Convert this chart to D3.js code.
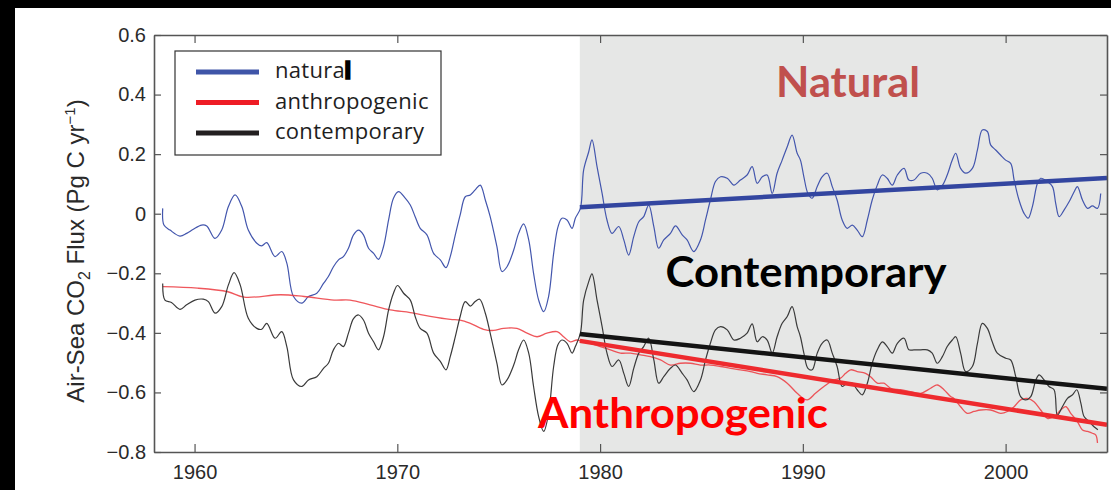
<!DOCTYPE html>
<html>
<head>
<meta charset="utf-8">
<script src="https://cdn.jsdelivr.net/npm/d3@7"></script>
<style>
  html, body { margin: 0; padding: 0; background: #fff; }
  svg { display: block; }
</style>
</head>
<body>
<svg id="chart" width="1111" height="490"></svg>
<script>
// Air-sea CO2 flux components, Pg C per year
const natYears = [1958.43,1958.49,1958.79,1959.28,1959.61,1959.94,1960.35,1960.60,1961.01,1961.34,1961.67,1962.00,1962.33,1962.65,1963.07,1963.31,1963.56,1963.97,1964.30,1964.55,1964.88,1965.29,1965.62,1966.03,1966.36,1966.60,1966.85,1967.10,1967.34,1967.59,1967.84,1968.09,1968.33,1968.58,1968.83,1969.07,1969.32,1969.57,1969.81,1970.06,1970.39,1970.64,1970.88,1971.13,1971.46,1971.79,1972.12,1972.40,1972.61,1972.86,1973.10,1973.35,1973.60,1973.84,1974.09,1974.34,1974.58,1974.91,1975.16,1975.41,1975.74,1975.98,1976.23,1976.48,1976.72,1976.97,1977.22,1977.46,1977.71,1977.92,1978.12,1978.37,1978.62,1978.78,1979.03,1979.19,1979.44,1979.60,1979.85,1980.10,1980.34,1980.59,1980.92,1981.17,1981.41,1981.66,1981.91,1982.15,1982.40,1982.65,1982.89,1983.14,1983.47,1983.72,1984.05,1984.29,1984.62,1984.95,1985.20,1985.44,1985.69,1985.94,1986.27,1986.60,1986.92,1987.25,1987.50,1987.75,1988.00,1988.24,1988.49,1988.73,1988.98,1989.23,1989.47,1989.72,1989.88,1990.05,1990.25,1990.46,1990.71,1990.95,1991.20,1991.45,1991.69,1991.94,1992.19,1992.44,1992.68,1992.93,1993.18,1993.42,1993.67,1993.92,1994.16,1994.41,1994.66,1994.99,1995.23,1995.48,1995.81,1996.14,1996.38,1996.63,1996.88,1997.12,1997.37,1997.54,1997.78,1998.03,1998.36,1998.61,1998.85,1999.10,1999.26,1999.51,1999.75,2000.00,2000.25,2000.42,2000.66,2000.91,2001.11,2001.32,2001.57,2001.73,2002.06,2002.31,2002.47,2002.64,2002.88,2003.13,2003.38,2003.54,2003.79,2004.04,2004.28,2004.53,2004.69];
const natural = [0.018,-0.038,-0.055,-0.075,-0.066,-0.052,-0.038,-0.041,-0.083,-0.055,0.024,0.063,0.024,-0.055,-0.099,-0.108,-0.097,-0.144,-0.127,-0.166,-0.278,-0.300,-0.278,-0.267,-0.234,-0.211,-0.178,-0.155,-0.144,-0.116,-0.071,-0.055,-0.071,-0.116,-0.133,-0.153,-0.110,-0.021,0.052,0.074,0.052,0.029,-0.010,-0.049,-0.071,-0.133,-0.155,-0.181,-0.144,-0.071,-0.004,0.057,0.063,0.080,0.096,0.046,-0.010,-0.110,-0.194,-0.178,-0.122,-0.066,-0.034,-0.088,-0.200,-0.290,-0.329,-0.278,-0.133,-0.045,-0.015,-0.021,-0.049,-0.015,0.018,0.147,0.208,0.248,0.158,0.068,-0.021,-0.066,-0.043,-0.088,-0.139,-0.077,-0.027,-0.010,0.029,-0.043,-0.116,-0.088,-0.066,-0.041,-0.071,-0.088,-0.127,-0.088,-0.021,0.046,0.108,0.124,0.119,0.096,0.113,0.130,0.158,0.102,0.124,0.130,0.068,0.136,0.180,0.225,0.264,0.203,0.180,0.124,0.068,0.052,0.091,0.124,0.136,0.091,0.046,-0.021,-0.049,-0.038,-0.055,-0.077,-0.021,0.046,0.096,0.130,0.119,0.096,0.130,0.152,0.113,0.113,0.136,0.136,0.119,0.080,0.095,0.130,0.180,0.203,0.152,0.136,0.152,0.214,0.281,0.276,0.231,0.214,0.197,0.180,0.169,0.113,0.046,0.001,-0.015,0.024,0.102,0.119,0.108,0.091,0.035,-0.010,0.012,0.040,0.074,0.091,0.046,0.018,0.026,0.018,0.068];

const anthYears = [1958.43,1960.15,1961.64,1962.45,1964.25,1965.40,1966.88,1967.67,1968.66,1969.65,1970.64,1971.62,1972.61,1973.10,1973.60,1974.25,1974.75,1975.24,1975.90,1976.40,1976.89,1977.38,1977.88,1978.20,1978.53,1978.86,1979.19,1979.52,1980.01,1980.51,1981.00,1981.50,1981.99,1982.48,1982.98,1983.47,1983.96,1984.46,1984.95,1985.44,1985.94,1986.43,1986.92,1987.42,1987.75,1988.24,1988.73,1989.23,1989.72,1990.21,1990.62,1991.04,1991.53,1991.86,1992.11,1992.36,1992.68,1993.09,1993.34,1993.67,1994.00,1994.33,1994.82,1995.31,1995.81,1996.30,1996.63,1996.96,1997.29,1997.45,1997.78,1998.11,1998.44,1998.77,1999.26,1999.76,2000.09,2000.42,2000.74,2001.07,2001.40,2001.73,2002.06,2002.39,2002.72,2002.97,2003.21,2003.54,2003.79,2004.04,2004.28,2004.45,2004.53];
const anthropogenic = [-0.245,-0.250,-0.262,-0.280,-0.272,-0.278,-0.290,-0.290,-0.306,-0.323,-0.332,-0.345,-0.355,-0.357,-0.368,-0.388,-0.392,-0.385,-0.385,-0.401,-0.413,-0.401,-0.396,-0.413,-0.430,-0.424,-0.430,-0.435,-0.446,-0.457,-0.468,-0.468,-0.474,-0.480,-0.491,-0.508,-0.502,-0.502,-0.508,-0.508,-0.513,-0.519,-0.524,-0.530,-0.536,-0.541,-0.547,-0.569,-0.603,-0.625,-0.603,-0.580,-0.558,-0.552,-0.536,-0.524,-0.530,-0.536,-0.547,-0.569,-0.569,-0.586,-0.591,-0.597,-0.603,-0.586,-0.575,-0.591,-0.614,-0.620,-0.648,-0.670,-0.664,-0.659,-0.659,-0.670,-0.664,-0.648,-0.625,-0.620,-0.631,-0.659,-0.687,-0.681,-0.659,-0.648,-0.670,-0.698,-0.726,-0.731,-0.737,-0.743,-0.770];

const contYears = [1958.43,1958.54,1958.86,1959.28,1959.61,1960.02,1960.43,1960.68,1961.01,1961.34,1961.67,1961.95,1962.25,1962.65,1963.07,1963.31,1963.56,1963.97,1964.30,1964.55,1964.88,1965.29,1965.62,1966.03,1966.36,1966.60,1966.85,1967.10,1967.34,1967.59,1967.84,1968.09,1968.33,1968.58,1968.83,1969.07,1969.32,1969.57,1969.81,1970.01,1970.31,1970.64,1970.88,1971.13,1971.46,1971.79,1972.12,1972.40,1972.61,1972.86,1973.10,1973.35,1973.60,1973.84,1974.06,1974.34,1974.58,1974.91,1975.16,1975.41,1975.74,1975.98,1976.23,1976.48,1976.72,1976.97,1977.22,1977.46,1977.71,1977.92,1978.12,1978.37,1978.62,1978.78,1979.03,1979.19,1979.44,1979.60,1979.85,1980.10,1980.34,1980.59,1980.92,1981.17,1981.41,1981.66,1981.91,1982.15,1982.40,1982.65,1982.89,1983.14,1983.47,1983.72,1984.05,1984.29,1984.62,1984.95,1985.20,1985.44,1985.69,1985.94,1986.27,1986.60,1986.92,1987.25,1987.50,1987.75,1988.00,1988.24,1988.49,1988.73,1988.98,1989.23,1989.47,1989.72,1989.88,1990.05,1990.25,1990.46,1990.71,1990.95,1991.20,1991.45,1991.69,1991.94,1992.19,1992.44,1992.68,1992.93,1993.18,1993.42,1993.67,1993.92,1994.16,1994.41,1994.66,1994.99,1995.23,1995.48,1995.81,1996.14,1996.38,1996.63,1996.88,1997.12,1997.37,1997.54,1997.78,1998.03,1998.36,1998.61,1998.85,1999.10,1999.34,1999.59,2000.00,2000.25,2000.50,2000.74,2000.99,2001.24,2001.49,2001.65,2001.90,2002.14,2002.39,2002.55,2002.80,2003.05,2003.30,2003.51,2003.71,2003.87,2004.12,2004.36,2004.55];
const contemporary = [-0.234,-0.290,-0.298,-0.321,-0.306,-0.290,-0.287,-0.295,-0.334,-0.312,-0.239,-0.198,-0.239,-0.351,-0.385,-0.388,-0.368,-0.418,-0.396,-0.446,-0.558,-0.580,-0.558,-0.547,-0.519,-0.502,-0.457,-0.435,-0.446,-0.401,-0.352,-0.340,-0.357,-0.401,-0.430,-0.457,-0.413,-0.323,-0.267,-0.241,-0.267,-0.290,-0.345,-0.385,-0.401,-0.468,-0.496,-0.524,-0.480,-0.413,-0.345,-0.295,-0.310,-0.295,-0.287,-0.334,-0.401,-0.502,-0.575,-0.558,-0.508,-0.457,-0.424,-0.468,-0.580,-0.681,-0.731,-0.670,-0.513,-0.440,-0.424,-0.435,-0.468,-0.446,-0.401,-0.290,-0.228,-0.202,-0.290,-0.379,-0.468,-0.513,-0.491,-0.536,-0.580,-0.519,-0.468,-0.446,-0.418,-0.491,-0.569,-0.547,-0.519,-0.508,-0.536,-0.558,-0.597,-0.558,-0.491,-0.435,-0.390,-0.379,-0.390,-0.424,-0.418,-0.401,-0.370,-0.430,-0.413,-0.424,-0.468,-0.413,-0.368,-0.345,-0.312,-0.379,-0.413,-0.468,-0.519,-0.524,-0.468,-0.435,-0.424,-0.468,-0.513,-0.580,-0.569,-0.569,-0.591,-0.608,-0.569,-0.502,-0.457,-0.430,-0.446,-0.468,-0.435,-0.418,-0.457,-0.457,-0.457,-0.457,-0.468,-0.502,-0.480,-0.446,-0.424,-0.413,-0.468,-0.530,-0.513,-0.435,-0.368,-0.385,-0.430,-0.468,-0.485,-0.491,-0.547,-0.614,-0.625,-0.614,-0.558,-0.541,-0.558,-0.580,-0.591,-0.676,-0.648,-0.620,-0.608,-0.591,-0.636,-0.681,-0.698,-0.715,-0.725];

// Linear trends over 1979-2005
const trendYears = [1979, 2005];
const naturalTrend = [0.022, 0.120];
const contemporaryTrend = [-0.404, -0.588];
const anthropogenicTrend = [-0.427, -0.709];

const xTicks = [1960, 1970, 1980, 1990, 2000];
const yTicks = [0.6, 0.4, 0.2, 0, -0.2, -0.4, -0.6, -0.8];
const legendLabels = ["natural", "anthropogenic", "contemporary"];

const svg = d3.select("#chart");
const W = 1111, H = 490;
const plot = { left: 154, right: 1107, top: 35, bottom: 452 };

const x = d3.scaleLinear().domain([1958, 2005]).range([plot.left, plot.right]);
const y = d3.scaleLinear().domain([-0.8, 0.6]).range([plot.bottom, plot.top]);

// dark frame strips along top and left edges
svg.append("rect").attr("x", 0).attr("y", 0).attr("width", W).attr("height", 8).attr("fill", "#000");
svg.append("rect").attr("x", 0).attr("y", 0).attr("width", 15).attr("height", H).attr("fill", "#000");

svg.append("defs").append("clipPath").attr("id", "plotClip")
  .append("rect").attr("x", plot.left).attr("y", plot.top)
  .attr("width", plot.right - plot.left).attr("height", plot.bottom - plot.top);

// shaded analysis period
svg.append("rect")
  .attr("x", x(trendYears[0])).attr("y", plot.top)
  .attr("width", plot.right - x(trendYears[0])).attr("height", plot.bottom - plot.top)
  .attr("fill", "#e6e7e6");

const line = d3.line().curve(d3.curveCatmullRom.alpha(0.5))
  .x(d => x(d[0])).y(d => y(d[1]));
const zip = (a, b) => a.map((v, i) => [v, b[i]]);

const g = svg.append("g").attr("clip-path", "url(#plotClip)");
g.append("path").attr("d", line(zip(natYears, natural)))
  .attr("fill", "none").attr("stroke", "#4356ad").attr("stroke-width", 1.2);
g.append("path").attr("d", line(zip(anthYears, anthropogenic)))
  .attr("fill", "none").attr("stroke", "#ec3a3f").attr("stroke-width", 1.3).attr("stroke-opacity", 0.85);
g.append("path").attr("d", line(zip(contYears, contemporary)))
  .attr("fill", "none").attr("stroke", "#3a3a3a").attr("stroke-width", 1.2);

const straight = d3.line().x(d => x(d[0])).y(d => y(d[1]));
g.append("path").attr("d", straight(zip(trendYears, naturalTrend)))
  .attr("stroke", "#3346a0").attr("stroke-width", 4.5).attr("fill", "none");
g.append("path").attr("d", straight(zip(trendYears, contemporaryTrend)))
  .attr("stroke", "#141414").attr("stroke-width", 4.5).attr("fill", "none");
g.append("path").attr("d", straight(zip(trendYears, anthropogenicTrend)))
  .attr("stroke", "#ee2a2e").attr("stroke-width", 4.5).attr("fill", "none");

// axes: inward ticks on all four sides
const axisColor = "#555";
const tickFont = "'Liberation Sans Narrow','Arial Narrow','Liberation Sans',sans-serif";
const fmt = v => (v < 0 ? "\u2212" : "") + (v === 0 ? "0" : Math.abs(v).toFixed(1));

const axBottom = svg.append("g").attr("transform", `translate(0,${plot.bottom})`)
  .call(d3.axisBottom(x).tickValues(xTicks).tickSizeInner(-8).tickSizeOuter(0).tickPadding(13).tickFormat(d3.format("d")));
const axTop = svg.append("g").attr("transform", `translate(0,${plot.top})`)
  .call(d3.axisTop(x).tickValues(xTicks).tickSizeInner(-8).tickSizeOuter(0).tickFormat(""));
const axLeft = svg.append("g").attr("transform", `translate(${plot.left},0)`)
  .call(d3.axisLeft(y).tickValues(yTicks).tickSizeInner(-7).tickSizeOuter(0).tickPadding(8).tickFormat(fmt));
const axRight = svg.append("g").attr("transform", `translate(${plot.right},0)`)
  .call(d3.axisRight(y).tickValues(yTicks).tickSizeInner(-7).tickSizeOuter(0).tickFormat(""));

[axBottom, axTop, axLeft, axRight].forEach(a => {
  a.select(".domain").attr("stroke", axisColor).attr("stroke-width", 1.6);
  a.selectAll(".tick line").attr("stroke", axisColor).attr("stroke-width", 1.2);
  a.selectAll(".tick text").attr("fill", "#2a2a2a").style("font-family", tickFont).style("font-size", "20px");
});

// y-axis title
const yt = svg.append("text")
  .attr("transform", `translate(84,251) rotate(-90)`)
  .attr("text-anchor", "middle")
  .style("font-family", tickFont).style("font-size", "24px").attr("fill", "#2a2a2a");
yt.append("tspan").text("Air-Sea CO");
yt.append("tspan").attr("dy", 6).style("font-size", "16px").text("2");
yt.append("tspan").attr("dy", -6).text(" Flux (Pg C yr");
yt.append("tspan").attr("dy", -9).style("font-size", "15px").text("\u22121");
yt.append("tspan").attr("dy", 9).text(")");

// legend
const legendColors = ["#3f55a8", "#ee1c25", "#231f20"];
const lg = svg.append("g");
lg.append("rect").attr("x", 175).attr("y", 51).attr("width", 266).attr("height", 104)
  .attr("fill", "#fff").attr("stroke", "#333").attr("stroke-width", 1.2);
legendLabels.forEach((lab, i) => {
  const yy = 72 + i * 30.5;
  lg.append("line").attr("x1", 196).attr("x2", 259).attr("y1", yy).attr("y2", yy)
    .attr("stroke", legendColors[i]).attr("stroke-width", 5);
  const t = lg.append("text").attr("x", 275).attr("y", yy + 6)
    .style("font-family", "'Open Sans',sans-serif").style("font-size", "22px")
    .style("letter-spacing", "0.3px").attr("fill", "#1e1e1e");
  if (lab === "natural") {
    t.append("tspan").text("natura");
    t.append("tspan").attr("stroke", "#000").attr("stroke-width", 3.5).attr("fill", "#000").text("l");
  } else {
    t.text(lab);
  }
});

// period annotations
const note = (txt, cx, by, w, color) => svg.append("text")
  .attr("x", cx).attr("y", by).attr("text-anchor", "middle")
  .attr("textLength", w).attr("lengthAdjust", "spacingAndGlyphs")
  .style("font-family", "Lato,'Open Sans',sans-serif").style("font-weight", 700)
  .style("font-size", "42px").attr("fill", color).text(txt);
note("Natural", 848, 97, 144, "#c0504d");
note("Contemporary", 806, 287, 281, "#000");
note("Anthropogenic", 683, 428, 290, "#ff0000");
</script>
</body>
</html>
